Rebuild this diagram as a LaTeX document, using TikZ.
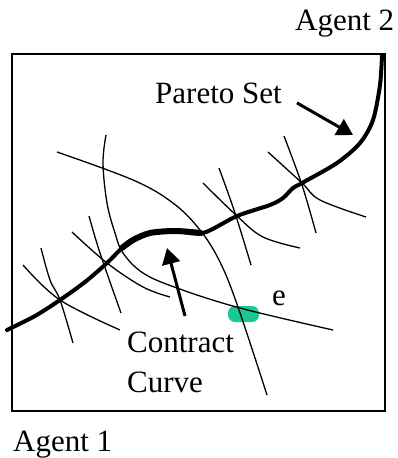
\documentclass[tikz,border=0pt]{standalone}
\usepackage{fontspec}
\setmainfont{Liberation Serif}
\usepackage{tikz}
\usetikzlibrary{arrows.meta, positioning}
\definecolor{blobgreen}{RGB}{25,200,150}
\tikzset{
  % curve styles
  indiff/.style={line width=1.3pt},
  pareto/.style={line width=4pt, line cap=round, line join=round},
  frame/.style={line width=1.6pt},
  arrow/.style={-{Triangle[length=16pt, width=18pt]}, line width=3pt},
  % text styles
  label/.style={font=\fontsize{31}{40}\selectfont, inner sep=0pt, anchor=base west},
  endow/.style={fill=blobgreen, rounded corners=7pt, minimum width=31pt, minimum height=16pt, inner sep=0pt},
}

\begin{document}
\begin{tikzpicture}[x=1pt, y=-1pt]
    \useasboundingbox (0,0) rectangle (398,458);

    % Edgeworth box
    \draw[frame] (12,54) rectangle (385,411);

    % Endowment
    \node[endow] (blob) at (243.5,314) {};
    \node[label] (e) at (272,305) {e};

    % Long indifference curves
    \draw[indiff] plot[smooth, tension=0.6] coordinates {(57,152) (133,180) (173,203) (200,230) (220,262) (238,307) (267,395)};
    \draw[indiff] plot[smooth, tension=0.6] coordinates {(106,135) (103,163) (107,203) (115,233) (123,253) (143,273) (177,288) (240,308) (333,330)};

    % Small crossing pairs
    \draw[indiff] plot[smooth, tension=0.6] coordinates {(23,265) (60,300) (120,330)};
    \draw[indiff] plot[smooth, tension=0.6] coordinates {(41,248) (50,280) (60,300) (73,343)};
    \draw[indiff] plot[smooth, tension=0.6] coordinates {(72,232) (107,263) (143,287) (170,297)};
    \draw[indiff] plot[smooth, tension=0.6] coordinates {(89,216) (100,253) (121,313)};
    \draw[indiff] plot[smooth, tension=0.6] coordinates {(203,183) (237,216) (263,237) (300,248)};
    \draw[indiff] plot[smooth, tension=0.6] coordinates {(219,168) (235,213) (251,265)};
    \draw[indiff] plot[smooth, tension=0.6] coordinates {(268,152) (302,183) (320,200) (366,217)};
    \draw[indiff] plot[smooth, tension=0.6] coordinates {(284,136) (302,185) (316,233)};

    % Pareto set
    \draw[pareto] plot[smooth, tension=0.5] coordinates {(7,330) (35,316) (60,300) (85,282) (107,263) (120,250) (133,240) (150,233) (175,231) (203,233) (237,216) (270,205) (283,198) (293,188) (302,183) (337,163) (360,143) (373,120) (380,85) (382,55)};
    \draw[pareto, line width=6pt] plot[smooth, tension=0.5] coordinates {(122,248) (133,240) (150,233) (175,231) (201,233)};

    % Labels
    \node[label] (agenttwo) at (295,30) {Agent 2};
    \node[label] (agentone) at (13,451) {Agent 1};
    \node[label] (pareto) at (155,103) {Pareto Set};
    \node[label, align=left, anchor=north west] (contract) at (127,332) {Contract\\Curve};

    % Arrows
    \coordinate (paretotip) at (353,135);
    \coordinate (contracttip) at (167,248);
    \draw[arrow] (pareto.east) ++(15,10) -- (paretotip);
    \draw[arrow] ([xshift=58pt]contract.north west) ++(0,-16) -- (contracttip);
\end{tikzpicture}
\end{document}
